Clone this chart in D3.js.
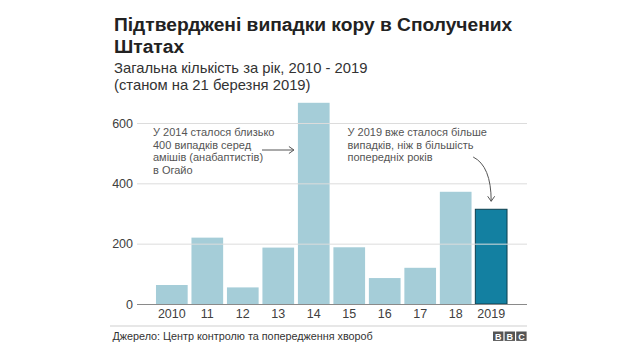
<!DOCTYPE html>
<html>
<head>
<meta charset="utf-8">
<script src="https://cdn.jsdelivr.net/npm/d3@7"></script>
<style>
  html, body { margin: 0; padding: 0; background: #fff; }
  svg { display: block; font-family: "Liberation Sans", Arial, Helvetica, sans-serif; }
</style>
</head>
<body>
<svg id="chart" width="640" height="360"></svg>
<script>
// ---- data ----
const years = ["2010", "2011", "2012", "2013", "2014", "2015", "2016", "2017", "2018", "2019"];
const tickLabels = ["2010", "11", "12", "13", "14", "15", "16", "17", "18", "2019"];
const cases = [63, 220, 55, 187, 667, 188, 86, 120, 372, 314];
const yTicks = [0, 200, 400, 600];
const titleLines = ["Підтверджені випадки кору в Сполучених", "Штатах"];
const subtitleLines = ["Загальна кількість за рік, 2010 - 2019", "(станом на 21 березня 2019)"];
const note2014 = ["У 2014 сталося близько", "400 випадків серед", "амішів (анабаптистів)", "в Огайо"];
const note2019 = ["У 2019 вже сталося більше", "випадків, ніж в більшість", "попередніх років"];
const source = "Джерело: Центр контролю та попередження хвороб";

const svg = d3.select("#chart");

// scales
const x = d3.scaleBand().domain(years).range([154.1, 508.9]).paddingInner(0.107).paddingOuter(0.053);
const y = d3.scaleLinear().domain([0, 600]).range([304, 123]);

// title
const title = svg.append("text").attr("x", 114).attr("fill", "#222")
  .style("font-size", "19.2px").style("font-weight", "bold");
titleLines.forEach((t, i) => title.append("tspan").attr("x", 114).attr("y", 31 + i * 21.5).text(t));
const sub = svg.append("text").attr("x", 114).attr("fill", "#333").style("font-size", "14.8px");
subtitleLines.forEach((t, i) => sub.append("tspan").attr("x", 114).attr("y", 73 + i * 17).text(t));

// y axis with gridlines
const gridLeft = 137, gridRight = 527;
const yAxis = svg.append("g").attr("transform", `translate(${gridLeft},0)`)
  .call(d3.axisLeft(y).tickValues(yTicks).tickSize(-(gridRight - gridLeft)).tickPadding(4));
yAxis.select(".domain").remove();
yAxis.selectAll(".tick line").attr("stroke", "#dcdcdc").attr("stroke-width", 1);
yAxis.selectAll(".tick text").attr("fill", "#404040").style("font-size", "12.5px")
  .style("font-family", "Liberation Sans, Arial, sans-serif");

// bars
svg.append("g").selectAll("rect").data(years).join("rect")
  .attr("x", d => x(d))
  .attr("y", (d, i) => y(cases[i]))
  .attr("width", x.bandwidth())
  .attr("height", (d, i) => y(0) - y(cases[i]))
  .attr("fill", (d, i) => i === years.length - 1 ? "#1380A1" : "#A5CDD8")
  .attr("stroke", (d, i) => i === years.length - 1 ? "#0d3f4e" : "none")
  .attr("stroke-width", 1);

// zero baseline
yAxis.selectAll(".tick").filter(d => d === 0).select("line")
  .attr("stroke", "#8a8a8a").attr("stroke-width", 1);
yAxis.raise();
svg.selectAll("g rect").lower();
yAxis.selectAll(".tick").filter(d => d !== 0).lower();

// x axis
const xAxis = svg.append("g").attr("transform", `translate(0,${y(0)})`)
  .call(d3.axisBottom(x).tickSize(0).tickPadding(5).tickFormat((d, i) => tickLabels[i]));
xAxis.select(".domain").remove();
xAxis.selectAll(".tick text").attr("fill", "#404040").style("font-size", "12.5px")
  .style("font-family", "Liberation Sans, Arial, sans-serif");

// annotations
const noteStyle = sel => sel.attr("fill", "#555").style("font-size", "11px");
const n1 = svg.append("text").call(noteStyle);
note2014.forEach((t, i) => n1.append("tspan").attr("x", 153).attr("y", 136 + i * 12.5).text(t));
const n2 = svg.append("text").call(noteStyle);
note2019.forEach((t, i) => n2.append("tspan").attr("x", 347.5).attr("y", 136 + i * 12.5).text(t));

// arrow 1 (to 2014 bar)
const ay1 = 150, ax1 = 262, ax2 = x("2014") - 4;
svg.append("path").attr("d", `M${ax1},${ay1}H${ax2}`).attr("stroke", "#555").attr("fill", "none");
svg.append("path").attr("d", `M${ax2 - 5},${ay1 - 3.5}L${ax2},${ay1}L${ax2 - 5},${ay1 + 3.5}`)
  .attr("stroke", "#555").attr("fill", "none");

// arrow 2 (to 2019 bar)
const bx = x("2019") + x.bandwidth() / 2, by = y(cases[9]) - 8;
svg.append("path").attr("d", `M${bx - 18},${157} Q${bx},${166} ${bx},${by}`)
  .attr("stroke", "#555").attr("fill", "none");
svg.append("path").attr("d", `M${bx - 3.5},${by - 5}L${bx},${by}L${bx + 3.5},${by - 5}`)
  .attr("stroke", "#555").attr("fill", "none");

// footer
svg.append("line").attr("x1", 110).attr("x2", 527).attr("y1", 326).attr("y2", 326)
  .attr("stroke", "#cfcfcf").attr("stroke-width", 1);
svg.append("text").attr("x", 112.5).attr("y", 340).attr("fill", "#333").style("font-size", "10.8px").text(source);
const logo = svg.append("g").attr("transform", "translate(493,331.5)");
["B", "B", "C"].forEach((l, i) => {
  logo.append("rect").attr("x", i * 11.6).attr("y", 0).attr("width", 10.4).attr("height", 9.4).attr("fill", "#555");
  logo.append("text").attr("x", i * 11.6 + 5.2).attr("y", 8.2).attr("text-anchor", "middle")
    .attr("fill", "#fff").style("font-size", "9px").style("font-weight", "bold").text(l);
});
</script>
</body>
</html>
